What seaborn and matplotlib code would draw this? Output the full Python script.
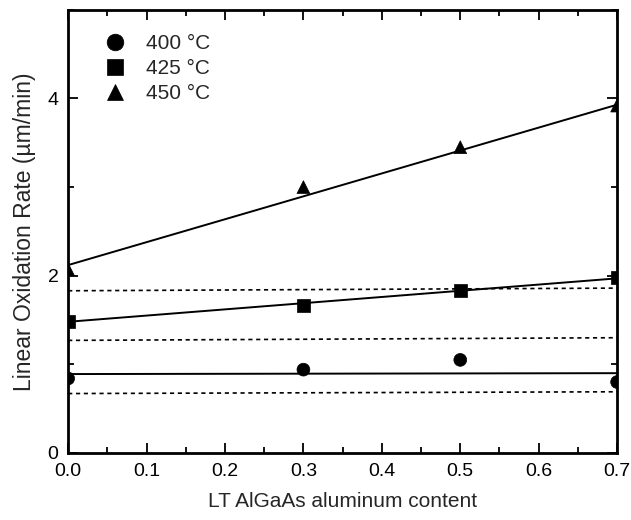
import numpy as np
import pandas as pd
import matplotlib
matplotlib.use("Agg")
import matplotlib.pyplot as plt
from matplotlib.ticker import MultipleLocator
import seaborn as sns

# Data
al_content = [0.0, 0.3, 0.5, 0.7]
rate_400 = [0.84, 0.94, 1.05, 0.80]
rate_425 = [1.48, 1.66, 1.83, 1.98]
rate_450 = [2.07, 3.00, 3.45, 3.92]
series_labels = ["400 °C", "425 °C", "450 °C"]

# Fitted lines (endpoints at x=0 and x=0.7)
fit_x = [0.0, 0.7]
fit_400 = [0.89, 0.90]
fit_425 = [1.48, 1.97]
fit_450 = [2.12, 3.93]

# Dotted reference lines (endpoints at x=0 and x=0.7)
dot_upper = [1.83, 1.86]
dot_mid = [1.27, 1.30]
dot_lower = [0.67, 0.69]

sns.set_style("ticks")
plt.rcParams['font.family'] = ['Liberation Sans', 'DejaVu Sans']

df = pd.DataFrame({
    "x": al_content * 3,
    "y": rate_400 + rate_425 + rate_450,
    "T": [series_labels[0]] * 4 + [series_labels[1]] * 4 + [series_labels[2]] * 4,
})
fits = pd.DataFrame({
    "x": fit_x * 3,
    "y": fit_400 + fit_425 + fit_450,
    "T": [series_labels[0]] * 2 + [series_labels[1]] * 2 + [series_labels[2]] * 2,
})
dots = pd.DataFrame({
    "x": fit_x * 3,
    "y": dot_upper + dot_mid + dot_lower,
    "g": ["u"] * 2 + ["m"] * 2 + ["l"] * 2,
})

fig = plt.figure(figsize=(6.31, 5.20), dpi=100)
ax = fig.add_axes([0.108, 0.129, 0.870, 0.852])

for g, sub in dots.groupby("g"):
    sns.lineplot(data=sub, x="x", y="y", ax=ax, color="black", lw=1.2,
                 linestyle=(0, (2.5, 2.2)), legend=False)
sns.lineplot(data=fits, x="x", y="y", units="T", estimator=None, ax=ax,
             color="black", lw=1.4, legend=False)
sns.scatterplot(data=df, x="x", y="y", style="T", markers={series_labels[0]: "o",
                series_labels[1]: "s", series_labels[2]: "^"},
                color="black", s=85, edgecolor="black", linewidth=0.5, ax=ax,
                clip_on=True, zorder=5)

ax.set_xlim(0, 0.7)
ax.set_ylim(0, 5)
ax.xaxis.set_major_locator(MultipleLocator(0.1))
ax.xaxis.set_minor_locator(MultipleLocator(0.05))
ax.yaxis.set_major_locator(MultipleLocator(2))
ax.yaxis.set_minor_locator(MultipleLocator(1))
ax.xaxis.set_major_formatter(matplotlib.ticker.FormatStrFormatter("%.1f"))
ax.tick_params(which="both", direction="in", top=True, right=True, width=1.3,
               labelsize=14, colors="black")
ax.tick_params(which="major", length=7, pad=7)
ax.tick_params(which="minor", length=4)
for sp in ax.spines.values():
    sp.set_linewidth(2)
    sp.set_color("black")

ax.set_xlabel("LT AlGaAs aluminum content", fontsize=15, labelpad=9)
ax.set_ylabel("Linear Oxidation Rate (µm/min)", fontsize=16.5, labelpad=8)

leg = ax.legend(loc="upper left", frameon=False, fontsize=15, markerscale=1.3,
                bbox_to_anchor=(0.028, 0.988), handletextpad=0.92, labelspacing=0.3,
                handlelength=1.2)
for h in leg.legend_handles:
    h.set_color("black")

fig.savefig("out.png", dpi=100)
